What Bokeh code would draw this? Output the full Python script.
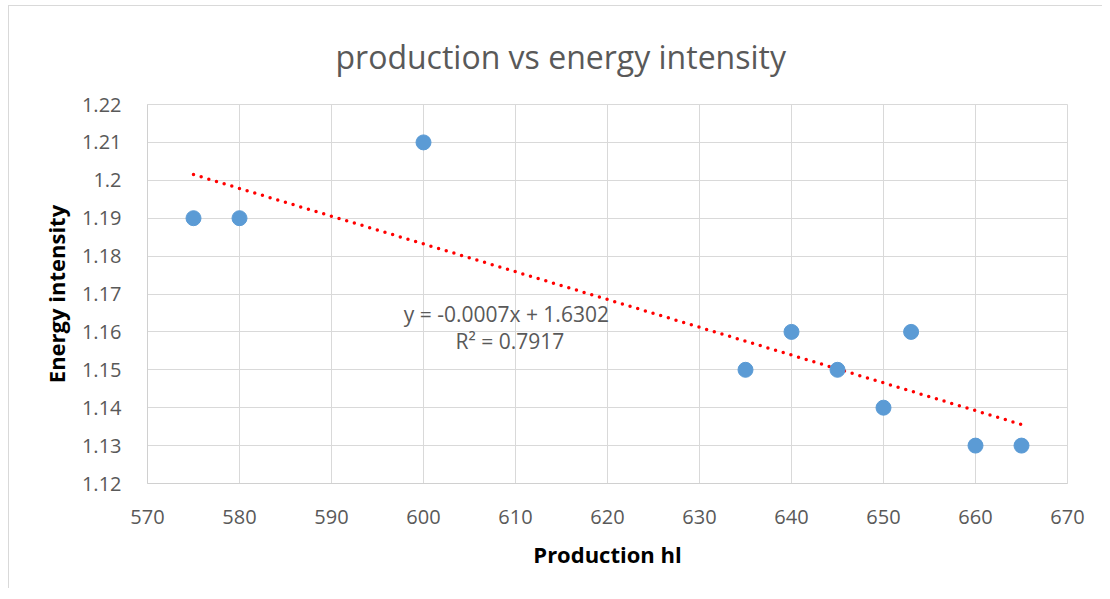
import numpy as np
from bokeh.plotting import figure
from bokeh.models import Label, FixedTicker, NumeralTickFormatter, ColumnDataSource, Range1d
from bokeh.embed import file_html
from bokeh.resources import INLINE

# ---- data ----
production = [575, 580, 600, 635, 640, 645, 650, 653, 660, 665]
energy_intensity = [1.19, 1.19, 1.21, 1.15, 1.16, 1.15, 1.14, 1.16, 1.13, 1.13]
x_ticks = [570, 580, 590, 600, 610, 620, 630, 640, 650, 660, 670]
y_ticks = [1.12, 1.13, 1.14, 1.15, 1.16, 1.17, 1.18, 1.19, 1.20, 1.21, 1.22]
title_text = "production vs energy intensity"
x_label = "Production hl"
y_label = "Energy intensity"
eq_text = "y = -0.0007x + 1.6302"
r2_text = "R² = 0.7917"

FONT = "Open Sans"
GRAY = "#595959"
GRID = "#d9d9d9"

p = figure(width=1094, height=583, output_backend="svg", toolbar_location=None,
           x_range=Range1d(570, 670), y_range=Range1d(1.12, 1.22),
           min_border_left=138, min_border_right=36, min_border_top=98, min_border_bottom=106)
p.styles = {"border-top": "1px solid #d9d9d9", "border-left": "1px solid #d9d9d9",
            "margin-left": "8px", "margin-top": "5px"}

p.title.text = title_text
p.title.align = "left"
p.title.offset = 188
p.title.text_font = FONT
p.title.text_font_size = "32px"
p.title.text_font_style = "normal"
p.title.text_color = GRAY
p.title.standoff = 53

p.outline_line_color = GRID
for ax in (p.xaxis, p.yaxis):
    ax.axis_line_color = "#d0d0d0"
    ax.axis_line_width = 1
    ax.major_tick_line_color = None
    ax.minor_tick_line_color = None
    ax.major_label_text_font = FONT
    ax.major_label_text_font_size = "20px"
    ax.major_label_text_color = GRAY
    ax.major_label_standoff = 20
    ax.axis_label_text_font = FONT
    ax.axis_label_text_font_size = "22px"
    ax.axis_label_text_font_style = "bold"
    ax.axis_label_text_color = "#000000"

p.xaxis.ticker = FixedTicker(ticks=x_ticks)
p.yaxis.ticker = FixedTicker(ticks=y_ticks)
p.yaxis.formatter = NumeralTickFormatter(format="0.[00]")
p.xaxis.axis_label = x_label
p.yaxis.axis_label = y_label
p.xaxis.axis_label_standoff = 12
p.yaxis.axis_label_standoff = 8

p.xgrid.ticker = FixedTicker(ticks=x_ticks)
p.ygrid.ticker = FixedTicker(ticks=y_ticks)
p.xgrid.grid_line_color = GRID
p.ygrid.grid_line_color = GRID
p.xgrid.grid_line_width = 1
p.ygrid.grid_line_width = 1

# trendline (least squares from the data)
slope, intercept = np.polyfit(production, energy_intensity, 1)
tx = [min(production), max(production)]
ty = [slope * v + intercept for v in tx]
p.line(tx, ty, line_color="#ff0000", line_width=3.5, line_dash="0 8", line_cap="round")

src = ColumnDataSource(dict(x=production, y=energy_intensity))
p.scatter("x", "y", source=src, size=15, fill_color="#5b9bd5", line_color="#5b9bd5")

p.add_layout(Label(x=609, y=1.1646, text=eq_text, text_align="center", text_baseline="middle",
                   text_font=FONT, text_font_size="21px", text_color=GRAY))
p.add_layout(Label(x=609.4, y=1.1575, text=r2_text, text_align="center", text_baseline="middle",
                   text_font=FONT, text_font_size="21px", text_color=GRAY))

open("out.html", "w").write(file_html(p, INLINE))
